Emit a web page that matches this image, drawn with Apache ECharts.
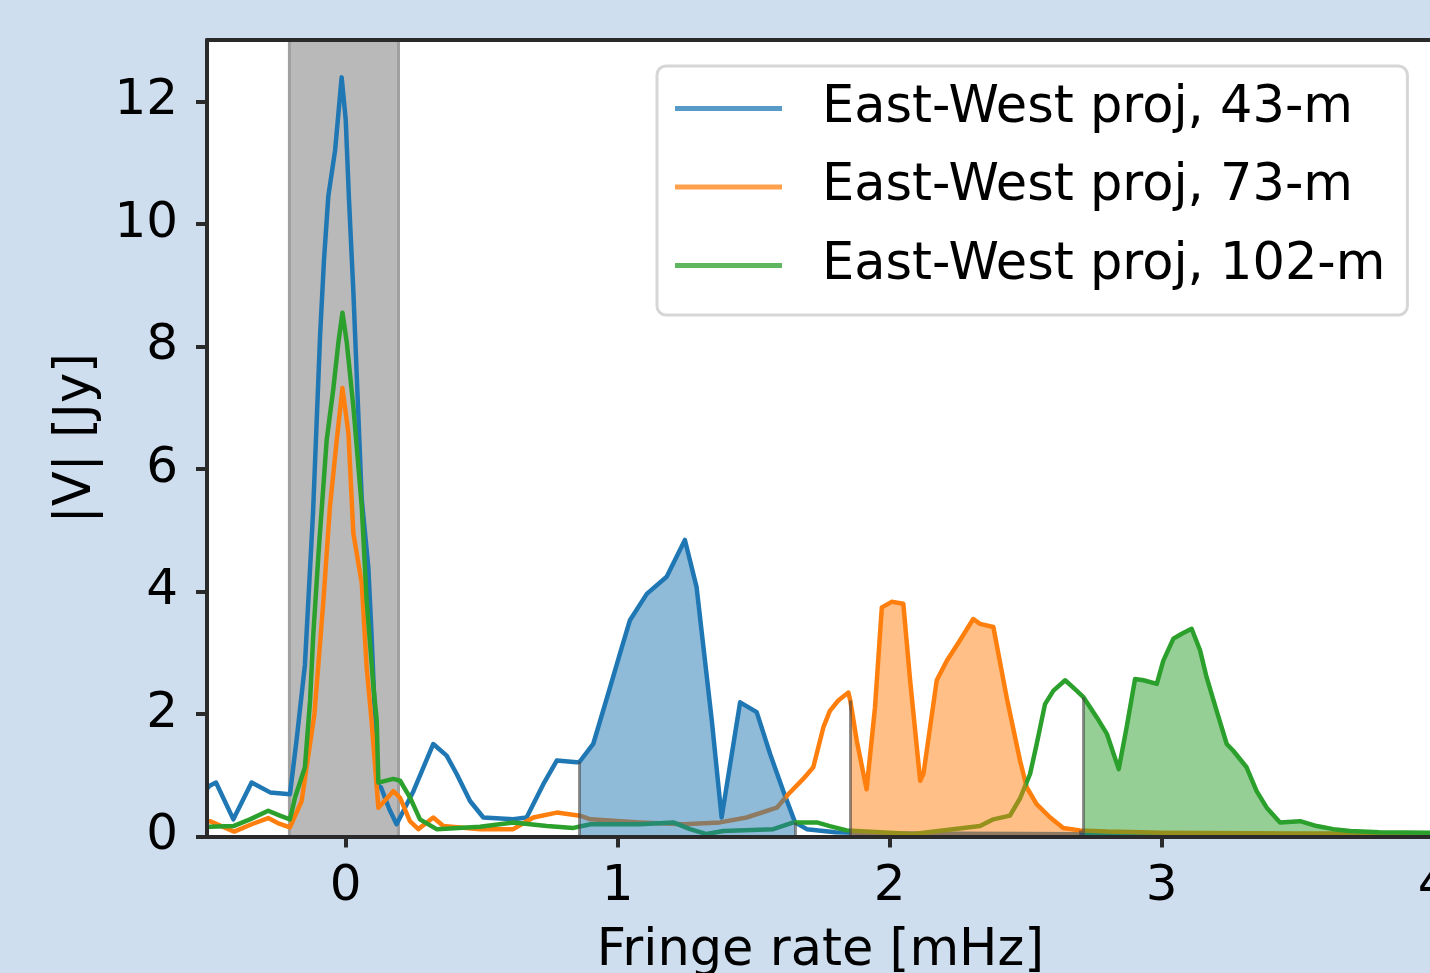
<!DOCTYPE html>
<html>
<head>
<meta charset="utf-8">
<script src="https://cdn.jsdelivr.net/npm/echarts@6/dist/echarts.min.js"></script>
<style>
  html, body { margin: 0; padding: 0; background: #cfdeee; }
  #chart { width: 1430px; height: 973px; }
</style>
</head>
<body>
<div id="chart"></div>
<script>
// 系列名称
const seriesNames = ['East-West proj, 43-m', 'East-West proj, 73-m', 'East-West proj, 102-m']

// 43-m 基线 (蓝)
const rate43 = [-0.51, -0.5, -0.477, -0.413, -0.346, -0.278, -0.205, -0.18, -0.15, -0.12, -0.094, -0.08, -0.064, -0.039, -0.015,
  0.0, 0.012, 0.028, 0.059, 0.083, 0.095, 0.108, 0.115, 0.13, 0.16, 0.187, 0.249, 0.322, 0.371, 0.408, 0.457, 0.506, 0.616,
  0.665, 0.726, 0.776, 0.849, 0.86, 0.91, 0.965, 1.008, 1.045, 1.107, 1.18, 1.247, 1.29, 1.346, 1.382, 1.45, 1.511, 1.56,
  1.609, 1.652, 1.695, 1.8, 2.0, 2.5, 3.0, 3.5, 4.0]
const amp43 = [0.78, 0.83, 0.88, 0.28, 0.88, 0.72, 0.69, 1.6, 2.8, 5.3, 8.2, 9.4, 10.45, 11.2, 12.39,
  11.7, 10.4, 8.9, 5.5, 4.4, 3.3, 1.9, 0.85, 0.8, 0.45, 0.2, 0.74, 1.51, 1.32, 1.02, 0.58, 0.31, 0.28,
  0.31, 0.85, 1.24, 1.21, 1.22, 1.51, 2.33, 2.98, 3.53, 3.96, 4.24, 4.84, 4.07, 1.89, 0.31, 2.19, 2.03, 1.35,
  0.74, 0.23, 0.12, 0.07, 0.05, 0.04, 0.03, 0.03, 0.03]

// 73-m 基线 (橙)
const rate73 = [-0.51, -0.5, -0.41, -0.346, -0.285, -0.25, -0.205, -0.162, -0.115, -0.082, -0.058, -0.033, -0.012,
  0.01, 0.028, 0.059, 0.077, 0.095, 0.12, 0.175, 0.2, 0.236, 0.267, 0.322, 0.359, 0.494, 0.616, 0.69, 0.776, 0.861,
  0.9, 1.082, 1.241, 1.376, 1.474, 1.585, 1.627, 1.682, 1.719, 1.756, 1.78, 1.811, 1.848, 1.855, 1.879, 1.915, 1.946,
  1.971, 2.007, 2.05, 2.075, 2.112, 2.124, 2.173, 2.21, 2.258, 2.307, 2.332, 2.381, 2.43, 2.479, 2.504, 2.54, 2.59,
  2.638, 2.7, 2.8, 3.0, 3.5, 4.0]
const amp73 = [0.25, 0.25, 0.08, 0.2, 0.3, 0.22, 0.15, 0.58, 2.0, 3.85, 5.38, 6.47, 7.32,
  6.58, 4.95, 4.13, 2.76, 1.89, 0.47, 0.74, 0.63, 0.25, 0.12, 0.31, 0.17, 0.12, 0.12, 0.31, 0.39, 0.34,
  0.28, 0.23, 0.2, 0.23, 0.31, 0.47, 0.69, 0.94, 1.13, 1.78, 2.05, 2.22, 2.35, 2.22, 1.56, 0.77, 2.11,
  3.74, 3.83, 3.8, 2.55, 0.91, 1.02, 2.55, 2.87, 3.2, 3.55, 3.47, 3.42, 2.27, 1.24, 0.8, 0.53, 0.31,
  0.14, 0.1, 0.08, 0.06, 0.05, 0.05]

// 102-m 基线 (绿)
const rate102 = [-0.51, -0.5, -0.413, -0.352, -0.285, -0.242, -0.205, -0.186, -0.15, -0.131, -0.119, -0.1, -0.07, -0.046,
  -0.027, -0.012, 0.004, 0.028, 0.059, 0.077, 0.101, 0.114, 0.12, 0.175, 0.2, 0.236, 0.273, 0.334, 0.494, 0.616, 0.739,
  0.837, 0.9, 1.082, 1.204, 1.266, 1.327, 1.388, 1.572, 1.646, 1.732, 1.78, 1.842, 2.087, 2.271, 2.332, 2.381, 2.442,
  2.479, 2.516, 2.54, 2.571, 2.602, 2.645, 2.687, 2.713, 2.762, 2.799, 2.842, 2.871, 2.902, 2.933, 2.982, 3.006, 3.043,
  3.074, 3.11, 3.141, 3.165, 3.202, 3.239, 3.263, 3.312, 3.349, 3.386, 3.435, 3.509, 3.57, 3.631, 3.693, 3.8, 4.0]
const amp102 = [0.16, 0.16, 0.17, 0.28, 0.42, 0.34, 0.28, 0.64, 1.13, 2.22, 3.31, 4.62, 6.47, 7.29,
  8.06, 8.55, 8.06, 7.02, 5.38, 3.85, 2.49, 1.89, 0.88, 0.94, 0.91, 0.64, 0.28, 0.12, 0.16, 0.23, 0.17,
  0.14, 0.2, 0.2, 0.23, 0.12, 0.04, 0.09, 0.12, 0.23, 0.23, 0.17, 0.1, 0.04, 0.14, 0.17, 0.28, 0.34,
  0.62, 1.02, 1.5, 2.16, 2.38, 2.55, 2.38, 2.27, 1.94, 1.67, 1.1, 1.78, 2.57, 2.55, 2.49, 2.87, 3.23,
  3.31, 3.39, 3.04, 2.6, 2.05, 1.51, 1.4, 1.13, 0.74, 0.47, 0.23, 0.25, 0.17, 0.12, 0.09, 0.07, 0.06]

// 阴影区间与填充区间
const maskBand = [-0.207, 0.194]
const fillRanges = [[0.86, 1.652], [1.855, 2.72], [2.713, 4.0]]

// 坐标轴刻度
const xTicks = [0, 1, 2, 3, 4]
const yTicks = [0, 2, 4, 6, 8, 10, 12]

const lineColors = ['#1f77b4', '#ff7f0e', '#2ca02c']
const legendColors = ['#5799c7', '#ffa04c', '#5fb65f']
const font = 'DejaVu Sans'
const fontSize = 50
const axisColor = '#2a2a2a'

const allRates = [rate43, rate73, rate102]
const allAmps = [amp43, amp73, amp102]
const pairs = (xs, ys) => xs.map((x, i) => [x, ys[i]])

let myChart = echarts.init(document.getElementById('chart'))

// 折线
const lineSeries = seriesNames.map((name, i) => ({
  name: name,
  type: 'line',
  symbol: 'none',
  z: 3,
  data: pairs(allRates[i], allAmps[i]),
  lineStyle: { color: lineColors[i], width: 4.5, join: 'round' },
  itemStyle: { color: lineColors[i] }
}))

// 填充区域
const fillSeries = fillRanges.map((r, i) => {
  const seg = pairs(allRates[i], allAmps[i]).filter(p => p[0] >= r[0] && p[0] <= r[1])
  const first = seg[0]
  const last = seg[seg.length - 1]
  return {
    name: 'fill' + i,
    type: 'line',
    symbol: 'none',
    z: 4,
    silent: true,
    data: seg,
    lineStyle: { width: 0 },
    areaStyle: { color: lineColors[i], opacity: 0.5, origin: 'start' },
    markLine: {
      silent: true,
      symbol: ['none', 'none'],
      label: { show: false },
      lineStyle: { color: 'rgba(70,70,70,0.6)', width: 3, type: 'solid' },
      data: [
        [{ coord: [first[0], 0] }, { coord: [first[0], first[1]] }],
        [{ coord: [last[0], 0] }, { coord: [last[0], last[1]] }]
      ]
    }
  }
})

let option = {
  backgroundColor: '#cfdeee',
  animation: false,
  textStyle: { fontFamily: font },
  grid: {
    left: 207, top: 40, width: 1226.7, height: 796.5,
    show: true, backgroundColor: '#ffffff', borderWidth: 0,
    outerBoundsMode: 'none'
  },
  legend: {
    orient: 'vertical',
    left: 657, top: 66,
    padding: [17, 22, 24, 18],
    backgroundColor: '#ffffff',
    borderColor: '#d6d6d6', borderWidth: 3, borderRadius: 9,
    icon: 'rect', itemWidth: 107, itemHeight: 5, itemGap: 27.5,
    textStyle: { fontFamily: font, fontSize: 51, color: '#000', lineHeight: 50, padding: [0, 0, 0, 35] },
    data: seriesNames.map((n, i) => ({ name: n, itemStyle: { color: legendColors[i] } }))
  },
  xAxis: [{
    type: 'value', min: -0.51, max: 4.0, z: 10,
    axisLine: { onZero: false, lineStyle: { color: axisColor, width: 4 } },
    axisTick: { customValues: xTicks, length: 11, lineStyle: { color: axisColor, width: 4 } },
    axisLabel: { customValues: xTicks, fontFamily: font, fontSize: fontSize, color: '#000', margin: 26, lineHeight: 49 },
    splitLine: { show: false },
    name: 'Fringe rate [mHz]', nameLocation: 'middle', nameGap: 91,
    nameTextStyle: { fontFamily: font, fontSize: 51, color: '#000', lineHeight: 49 }
  }, {
    type: 'value', position: 'top', min: -0.51, max: 4.0, z: 10,
    axisLine: { onZero: false, lineStyle: { color: axisColor, width: 4 } },
    axisTick: { show: false }, axisLabel: { show: false }, splitLine: { show: false }
  }],
  yAxis: {
    type: 'value', min: 0, max: 13, z: 10,
    axisLine: { show: true, onZero: false, lineStyle: { color: axisColor, width: 4 } },
    axisTick: { show: true, customValues: yTicks, length: 11, lineStyle: { color: axisColor, width: 4 } },
    axisLabel: { customValues: yTicks, fontFamily: font, fontSize: fontSize, color: '#000', margin: 29 },
    splitLine: { show: false },
    name: '|V| [Jy]', nameLocation: 'middle', nameGap: 106,
    nameTextStyle: { fontFamily: font, fontSize: 51, color: '#000', lineHeight: 49 }
  },
  series: [{
    // 灰色遮挡带
    name: 'mask',
    type: 'line',
    data: [],
    z: 1,
    markArea: {
      silent: true,
      itemStyle: { color: '#b9b9b9', borderColor: '#a0a0a0', borderWidth: 3 },
      data: [[{ xAxis: maskBand[0] }, { xAxis: maskBand[1] }]]
    }
  }].concat(lineSeries, fillSeries)
}

myChart.setOption(option)
</script>
</body>
</html>
